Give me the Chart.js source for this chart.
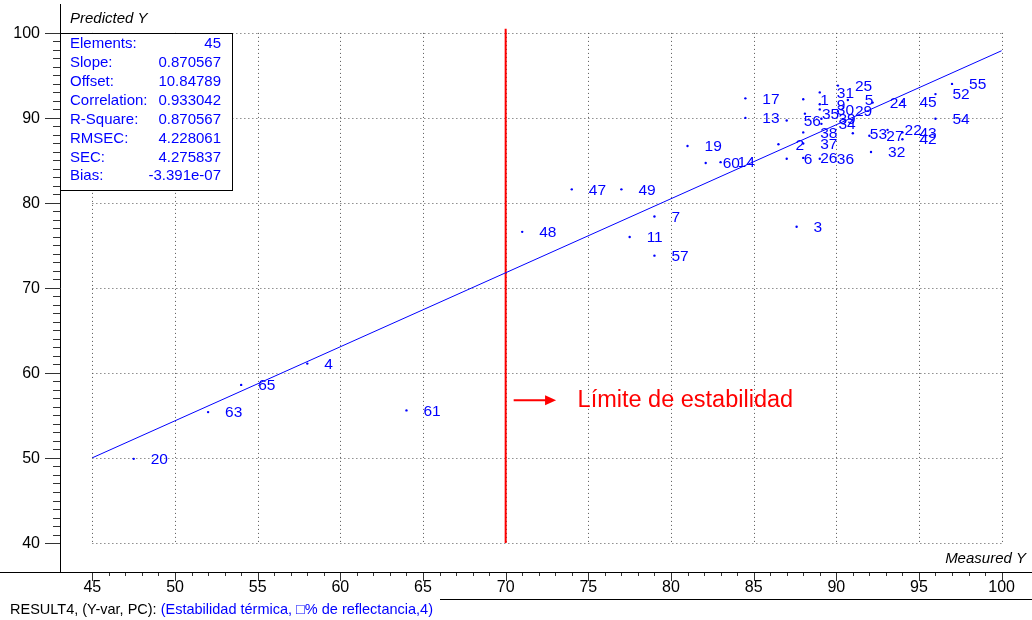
<!DOCTYPE html>
<html>
<head>
<meta charset="utf-8">
<script src="https://cdn.jsdelivr.net/npm/chart.js@4.4.1/dist/chart.umd.min.js"></script>
<style>
  html, body { margin: 0; padding: 0; background: #ffffff; }
  canvas { display: block; }
</style>
</head>
<body>
<canvas id="chart" width="1032" height="620"></canvas>
<script>
// Sample numbers shown next to each point
const sampleIds = [
  '20', '63', '65', '4', '61', '48', '47', '49', '7', '11', '57',
  '19', '60', '14', '3', '2', '6', '26', '38', '37', '36',
  '17', '13', '56', '35', '1', '31', '25', '9', '30', '29', '5',
  '24', '45', '52', '55', '54', '22', '43', '42', '27', '53', '32', '39', '34'
];
// Measured Y (x axis)
const measured = [
  47.5, 52.0, 54.0, 58.0, 64.0, 71.0, 74.0, 77.0, 79.0, 77.5, 79.0,
  81.0, 82.1, 83.0, 87.6, 86.5, 87.0, 88.0, 88.0, 88.0, 89.0,
  84.5, 84.5, 87.0, 88.1, 88.0, 89.0, 90.1, 89.0, 89.0, 90.1, 90.7,
  92.2, 94.0, 96.0, 97.0, 96.0, 93.1, 94.0, 94.0, 92.0, 91.0, 92.1, 89.1, 89.1
];
// Predicted Y (y axis)
const predicted = [
  49.9, 55.4, 58.6, 61.1, 55.6, 76.6, 81.6, 81.6, 78.4, 76.0, 73.8,
  86.7, 84.7, 84.8, 77.2, 86.9, 85.2, 85.3, 88.3, 87.0, 85.2,
  92.3, 90.0, 89.7, 90.5, 92.2, 93.0, 93.8, 91.6, 91.0, 90.8, 92.1,
  91.8, 91.9, 92.8, 94.0, 89.9, 88.6, 88.3, 87.5, 87.9, 88.2, 86.0, 89.9, 89.3
];

// Regression summary
const statNames = ['Elements:', 'Slope:', 'Offset:', 'Correlation:', 'R-Square:', 'RMSEC:', 'SEC:', 'Bias:'];
const statValues = ['45', '0.870567', '10.84789', '0.933042', '0.870567', '4.228061', '4.275837', '-3.391e-07'];
const fitSlope = 0.870567;
const fitOffset = 10.84789;
const fitRange = [45, 100];

// Axis ticks
const xTicks = [45, 50, 55, 60, 65, 70, 75, 80, 85, 90, 95, 100];
const yTicks = [40, 50, 60, 70, 80, 90, 100];

// Stability limit
const limitValue = 70;
const limitText = 'Límite de estabilidad';

const FONT = '"Liberation Sans", Arial, Helvetica, sans-serif';
const BLUE = '#0000ff';

const gridPlugin = {
  id: 'dottedGrid',
  beforeDatasetsDraw(chart) {
    const { ctx, scales: { x, y } } = chart;
    ctx.save();
    ctx.strokeStyle = '#555555';
    ctx.lineWidth = 1;
    ctx.setLineDash([1, 3]);
    const x0 = x.getPixelForValue(xTicks[0]);
    const x1 = x.getPixelForValue(xTicks[xTicks.length - 1]);
    const y0 = y.getPixelForValue(yTicks[0]);
    const y1 = y.getPixelForValue(yTicks[yTicks.length - 1]);
    yTicks.forEach(v => {
      const py = Math.round(y.getPixelForValue(v)) + 0.5;
      ctx.beginPath(); ctx.moveTo(x0, py); ctx.lineTo(x1, py); ctx.stroke();
    });
    xTicks.forEach(v => {
      const px = Math.round(x.getPixelForValue(v)) + 0.5;
      ctx.beginPath(); ctx.moveTo(px, y1); ctx.lineTo(px, y0); ctx.stroke();
    });
    ctx.restore();
  }
};

const decorPlugin = {
  id: 'decor',
  afterDatasetsDraw(chart) {
    const { ctx, chartArea: area, scales: { x, y } } = chart;
    const W = chart.width;
    ctx.save();

    // point labels
    ctx.fillStyle = BLUE;
    ctx.font = '15.5px ' + FONT;
    ctx.textAlign = 'left';
    ctx.textBaseline = 'middle';
    sampleIds.forEach((id, i) => {
      const px = x.getPixelForValue(measured[i]);
      const py = y.getPixelForValue(predicted[i]);
      ctx.fillText(id, px + 17, py + 1);
    });

    // axis lines
    ctx.strokeStyle = '#000000';
    ctx.lineWidth = 1;
    ctx.beginPath();
    ctx.moveTo(area.left + 0.5, area.top);
    ctx.lineTo(area.left + 0.5, area.bottom + 0.5);
    ctx.moveTo(0, area.bottom + 0.5);
    ctx.lineTo(W, area.bottom + 0.5);
    ctx.stroke();

    // x ticks (major every 5, minor every 1)
    ctx.strokeStyle = '#333333';
    ctx.beginPath();
    for (let v = xTicks[0]; v <= xTicks[xTicks.length - 1]; v++) {
      const px = Math.round(x.getPixelForValue(v)) + 0.5;
      const len = (v % 5 === 0) ? 8 : 3;
      ctx.moveTo(px, area.bottom + 1);
      ctx.lineTo(px, area.bottom + 1 + len);
    }
    // y ticks (major every 10, minor every 1)
    for (let v = yTicks[0]; v <= yTicks[yTicks.length - 1]; v++) {
      const py = Math.round(y.getPixelForValue(v)) + 0.5;
      const len = (v % 10 === 0) ? 15 : 7;
      ctx.moveTo(area.left, py);
      ctx.lineTo(area.left - len, py);
    }
    ctx.stroke();

    // tick labels
    ctx.fillStyle = '#000000';
    ctx.font = '16px ' + FONT;
    ctx.textAlign = 'center';
    ctx.textBaseline = 'middle';
    xTicks.forEach(v => ctx.fillText(String(v), x.getPixelForValue(v), area.bottom + 16));
    ctx.textAlign = 'right';
    yTicks.forEach(v => ctx.fillText(String(v), area.left - 20, y.getPixelForValue(v) + 1));

    // axis titles
    ctx.font = 'italic 15px ' + FONT;
    ctx.textAlign = 'left';
    ctx.fillText('Predicted Y', area.left + 10, 19);
    ctx.textAlign = 'right';
    ctx.fillText('Measured Y', W - 6, area.bottom - 13);

    // statistics box
    const boxTop = Math.round(y.getPixelForValue(100)) + 0.5;
    const boxLeft = area.left + 0.5;
    const boxRight = 232.5;
    const boxBottom = 190.5;
    ctx.fillStyle = '#ffffff';
    ctx.fillRect(boxLeft, boxTop, boxRight - boxLeft, boxBottom - boxTop);
    ctx.strokeStyle = '#000000';
    ctx.strokeRect(boxLeft, boxTop, boxRight - boxLeft, boxBottom - boxTop);
    ctx.fillStyle = BLUE;
    ctx.font = '15px ' + FONT;
    statNames.forEach((name, i) => {
      const ty = 44 + i * 18.9;
      ctx.textAlign = 'left';
      ctx.fillText(name, 70, ty);
      ctx.textAlign = 'right';
      ctx.fillText(statValues[i], 221, ty);
    });

    // stability limit arrow and caption
    const ay = y.getPixelForValue(56.8);
    const ax0 = x.getPixelForValue(limitValue) + 8;
    const ax1 = x.getPixelForValue(73.05);
    ctx.strokeStyle = '#ff0000';
    ctx.fillStyle = '#ff0000';
    ctx.lineWidth = 2;
    ctx.beginPath();
    ctx.moveTo(ax0, ay);
    ctx.lineTo(ax1 - 8, ay);
    ctx.stroke();
    ctx.beginPath();
    ctx.moveTo(ax1, ay);
    ctx.lineTo(ax1 - 11, ay - 5);
    ctx.lineTo(ax1 - 11, ay + 5);
    ctx.closePath();
    ctx.fill();
    ctx.font = '23.5px ' + FONT;
    ctx.textAlign = 'left';
    ctx.textBaseline = 'middle';
    ctx.fillText(limitText, x.getPixelForValue(74.35), ay);

    // footer
    ctx.lineWidth = 1;
    ctx.strokeStyle = '#000000';
    ctx.beginPath();
    ctx.moveTo(440, 599.5);
    ctx.lineTo(W, 599.5);
    ctx.stroke();
    ctx.font = '14.5px ' + FONT;
    ctx.textAlign = 'left';
    ctx.fillStyle = '#000000';
    const head = 'RESULT4, (Y-var, PC): ';
    ctx.fillText(head, 10, 610);
    ctx.fillStyle = BLUE;
    ctx.fillText('(Estabilidad térmica, \u25A1% de reflectancia,4)', 10 + ctx.measureText(head).width, 610);

    ctx.restore();
  }
};

new Chart(document.getElementById('chart').getContext('2d'), {
  type: 'scatter',
  data: {
    datasets: [
      {
        label: 'Samples',
        data: measured.map((m, i) => ({ x: m, y: predicted[i] })),
        pointRadius: 1.2,
        pointBackgroundColor: BLUE,
        pointBorderWidth: 0,
        showLine: false
      },
      {
        label: 'Fit',
        data: fitRange.map(m => ({ x: m, y: fitSlope * m + fitOffset })),
        showLine: true,
        borderColor: BLUE,
        borderWidth: 1,
        pointRadius: 0
      },
      {
        label: 'Limit',
        data: [{ x: limitValue, y: 40 }, { x: limitValue, y: 100.5 }],
        showLine: true,
        borderColor: '#ff0000',
        borderWidth: 2,
        pointRadius: 0
      }
    ]
  },
  options: {
    responsive: false,
    animation: false,
    devicePixelRatio: 1,
    events: [],
    layout: { padding: { left: 60, top: 3, right: 0, bottom: 48 } },
    plugins: { legend: { display: false }, tooltip: { enabled: false } },
    scales: {
      x: { type: 'linear', display: false, min: 43.042, max: 101.596 },
      y: { type: 'linear', display: false, min: 36.59, max: 103.4 }
    }
  },
  plugins: [gridPlugin, decorPlugin]
});
</script>
</body>
</html>
